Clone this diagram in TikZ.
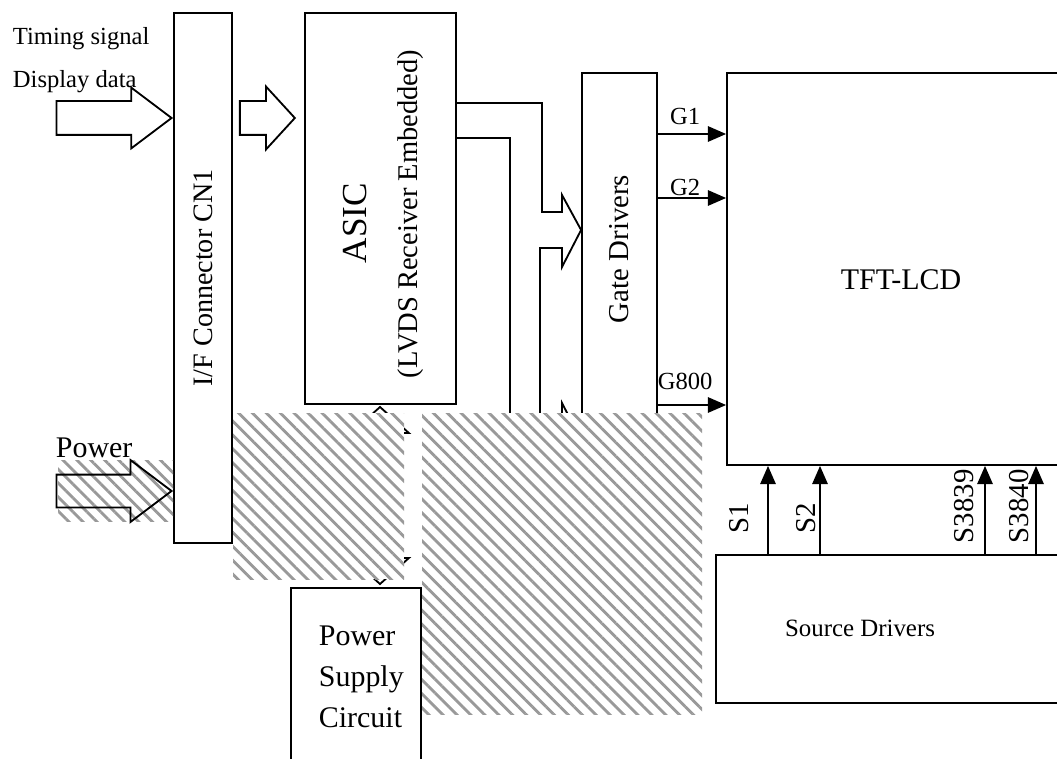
\documentclass[tikz,border=0pt]{standalone}
\usepackage{fontspec}
\setmainfont{Liberation Serif}
\usetikzlibrary{arrows.meta,shapes.arrows,patterns.meta}

\begin{document}
\begin{tikzpicture}[line width=1.3pt, >={Triangle[length=13pt,width=11pt]},
  box/.style={draw, inner sep=0pt},
  vtxt/.style={rotate=90, inner sep=0pt},
  blk/.style={single arrow, draw, inner xsep=0pt, single arrow tip angle=74},
  hatch/.style={pattern={Lines[angle=-45,distance=7pt,line width=2pt]}, pattern color=black!40},
  glbl/.style={font=\fontsize{17.5}{20}\selectfont, inner sep=0pt},
  slbl/.style={font=\fontsize{20.5}{24}\selectfont, rotate=90, inner sep=0pt, anchor=south west}]
  \useasboundingbox (0,0) rectangle (26.425,-18.975);

  % blocks
  \node[box, minimum width=1.45cm, minimum height=13.25cm] (ifc) at (5.075,-6.95) {};
  \node[box, minimum width=3.775cm, minimum height=9.775cm] (asic) at (9.5125,-5.2125) {};
  \node[box, minimum width=1.875cm, minimum height=8.8cm] (gate) at (15.4875,-6.225) {};
  \node[box, minimum width=8.825cm, minimum height=9.8cm] (tft) at (22.5875,-6.725) {};
  \node[box, minimum width=9.1cm, minimum height=3.7cm] (src) at (22.45,-15.725) {};
  \node[box, minimum width=3.25cm, minimum height=5.3cm] (psc) at (8.9,-17.35) {};

  % texts
  \node[vtxt, font=\fontsize{20}{24}\selectfont] (ifctext) at (ifc) {I/F Connector CN1};
  \node[vtxt, font=\fontsize{25}{30}\selectfont] (asictext) at (8.875,-5.575) {ASIC};
  \node[vtxt, font=\fontsize{20.3}{24}\selectfont] (lvdstext) at (10.275,-5.35) {(LVDS Receiver Embedded)};
  \node[vtxt, font=\fontsize{20.5}{24}\selectfont] (gatetext) at (gate) {Gate Drivers};
  \node[inner sep=0pt, font=\fontsize{21.3}{26}\selectfont] (tfttext) at (22.525,-7.0) {TFT-LCD};
  \node[inner sep=0pt, font=\fontsize{17.7}{21}\selectfont] (srctext) at (21.5,-15.7) {Source Drivers};
  \node[inner sep=0pt, anchor=north west, align=left, font=\fontsize{21.3}{29}\selectfont] (psctext) at (7.95,-15.625) {Power\\Supply\\Circuit};
  \node[inner sep=0pt, anchor=north west, align=left, font=\fontsize{17.5}{30}\selectfont] (sig) at (0.3,-0.675) {Timing signal\\Display data};
  \node[inner sep=0pt, anchor=base west, font=\fontsize{21.3}{26}\selectfont] (pwr) at (1.375,-11.425) {Power};

  % hatch behind the power arrow
  \path[hatch] (1.45,-11.5) rectangle (4.325,-13.025);

  % block arrows
  \node[blk, minimum height=2.875cm, inner ysep=0.4cm, single arrow head extend=0.3375cm, anchor=tip] (datain) at (ifc.west |- 0,-2.95) {};
  \node[blk, minimum height=1.375cm, inner ysep=0.4cm, single arrow head extend=0.3625cm, single arrow tip angle=95, anchor=tip, xshift=-0.2cm] (toasic) at (asic.west |- 0,-2.95) {};
  \node[blk, minimum height=2.875cm, inner ysep=0.3875cm, single arrow head extend=0.3625cm, anchor=tip] (pwrin) at (ifc.west |- 0,-12.275) {};
  \node[double arrow, draw, rotate=90, minimum height=4.425cm, inner xsep=0pt, inner ysep=0.35cm, double arrow head extend=0.35cm, double arrow tip angle=96] (pwrasic) at (9.5,-12.3875) {};

  % ASIC to gate drivers
  \draw (asic.east |- 0,-2.575) -- (13.55,-2.575) -- (13.55,-5.3) -- (14.05,-5.3) -- (14.05,-4.875)
    -- (gate.west |- 0,-5.75) -- (14.05,-6.675) -- (14.05,-6.2) -- (13.5,-6.2) -- (13.5,-10.5)
    -- (14.05,-10.5) -- (14.05,-10.075) -- (14.5,-10.95) -- (14.05,-11.825);
  \draw (asic.east |- 0,-3.45) -- (12.75,-3.45) -- (12.75,-12);

  % gate lines
  \draw[->] (gate.east |- 0,-3.35) -- node[glbl, above=6pt, pos=0.4] {G1} (tft.west |- 0,-3.35);
  \draw[->] (gate.east |- 0,-4.95) -- node[glbl, above=1pt, pos=0.4] {G2} (tft.west |- 0,-4.95);
  \draw[->] (gate.east |- 0,-10.125) -- node[glbl, above=10pt, pos=0.4] {G800} (tft.west |- 0,-10.125);

  % source lines
  \draw[->] (src.north -| 19.2,0) -- node[slbl, at start, xshift=0.5cm, yshift=0.45cm] {S1} (tft.south -| 19.2,0);
  \draw[->] (src.north -| 20.5,0) -- node[slbl, at start, xshift=0.5cm, yshift=0.075cm] {S2} (tft.south -| 20.5,0);
  \draw[->] (src.north -| 24.625,0) -- node[slbl, at start, xshift=0.25cm, yshift=0.25cm] {S3839} (tft.south -| 24.625,0);
  \draw[->] (src.north -| 25.9,0) -- node[slbl, at start, xshift=0.25cm, yshift=0.15cm] {S3840} (tft.south -| 25.9,0);

  % hatched areas
  \path[fill=white, postaction={hatch}] (5.825,-10.325) rectangle (10.1,-14.475);
  \path[fill=white, postaction={hatch}] (10.55,-10.325) rectangle (17.55,-17.85);
\end{tikzpicture}
\end{document}
